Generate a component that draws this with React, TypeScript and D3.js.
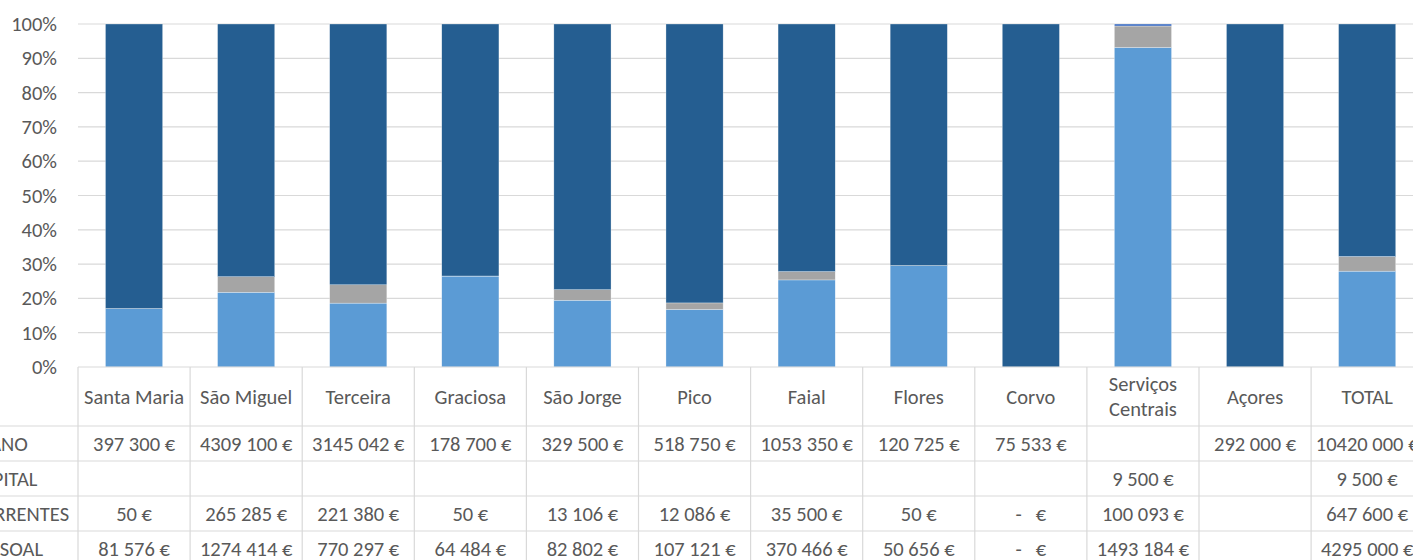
import React from "react";
import * as d3 from "d3";

const categories = [
  "Santa Maria", "São Miguel", "Terceira", "Graciosa", "São Jorge", "Pico",
  "Faial", "Flores", "Corvo", "Serviços Centrais", "Açores", "TOTAL",
];
const plano = [397300, 4309100, 3145042, 178700, 329500, 518750, 1053350, 120725, 75533, null, 292000, 10420000];
const capital = [null, null, null, null, null, null, null, null, null, 9500, null, 9500];
const correntes = [50, 265285, 221380, 50, 13106, 12086, 35500, 50, 0, 100093, null, 647600];
const pessoal = [81576, 1274414, 770297, 64484, 82802, 107121, 370466, 50656, 0, 1493184, null, 4295000];
const yTicks = [0, 0.1, 0.2, 0.3, 0.4, 0.5, 0.6, 0.7, 0.8, 0.9, 1];

const seriesBottomUp = [
  { key: "PESSOAL", values: pessoal, color: "#5B9BD5" },
  { key: "CORRENTES", values: correntes, color: "#A5A5A5" },
  { key: "CAPITAL", values: capital, color: "#4472C4" },
  { key: "PLANO", values: plano, color: "#255E91" },
];
const tableRows = [...seriesBottomUp].reverse();

const W = 1413, H = 560;
const FONT = "Carlito, Calibri, Lato, sans-serif";
const FS = 20.5;
const TXT = "#595959";
const GRID = "#D9D9D9";

function fmt(v: number | null): string {
  if (v === null) return "";
  if (v === 0) return "-   €";
  if (v < 1000) return `${v} €`;
  return `${Math.floor(v / 1000)} ${String(v % 1000).padStart(3, "0")} €`;
}

export default function App() {
  const left = 78;
  const colW = 112.1;
  const x = d3.scaleBand<string>().domain(categories).range([left, left + colW * categories.length]).paddingInner(0).paddingOuter(0);
  const y = d3.scaleLinear().domain([0, 1]).range([367, 24]);
  const barW = x.bandwidth() * 0.51;

  const rowsData = categories.map((c, i) => {
    const o: any = { cat: c };
    seriesBottomUp.forEach((s) => (o[s.key] = s.values[i] ?? 0));
    return o;
  });
  const stack = d3.stack<any>().keys(seriesBottomUp.map((s) => s.key)).offset(d3.stackOffsetExpand);
  const stacked = stack(rowsData);

  const headerTop = y(0);
  const headerBottom = 426;
  const rowH = 35;
  const rowTops = tableRows.map((_, i) => headerBottom + i * rowH);
  const tableBottom = headerBottom + tableRows.length * rowH;

  return (
    <svg width={W} height={H} style={{ position: "absolute", left: 0, top: 0, background: "#fff" }} fontFamily={FONT}>
      {yTicks.filter((t) => t > 0).map((t) => (
        <line key={t} x1={left} x2={W} y1={y(t)} y2={y(t)} stroke={GRID} strokeWidth={1.2} />
      ))}
      {yTicks.map((t) => (
        <text key={t} x={57} y={y(t)} textAnchor="end" dominantBaseline="central" fontSize={FS} fill={TXT}>
          {d3.format(".0%")(t)}
        </text>
      ))}
      {stacked.map((layer, li) => (
        <g key={layer.key} fill={seriesBottomUp[li].color}>
          {layer.map((d, i) => {
            const h = y(d[0]) - y(d[1]);
            if (!(h > 0)) return null;
            return (
              <rect key={i} x={(x(categories[i]) as number) + (x.bandwidth() - barW) / 2} y={y(d[1])} width={barW} height={h} stroke="#ffffff" strokeWidth={0.5} strokeOpacity={0.6} />
            );
          })}
        </g>
      ))}
      <line x1={left} x2={W} y1={headerTop} y2={headerTop} stroke={GRID} strokeWidth={1.2} />
      {[headerBottom, ...rowTops.slice(1), tableBottom].map((yy, i) => (
        <line key={"h" + i} x1={0} x2={W} y1={yy} y2={yy} stroke={GRID} strokeWidth={1.2} />
      ))}
      {categories.map((c) => (
        <line key={"v" + c} x1={x(c)} x2={x(c)} y1={headerTop} y2={tableBottom} stroke={GRID} strokeWidth={1.2} />
      ))}
      <line x1={left + colW * categories.length} x2={left + colW * categories.length} y1={headerTop} y2={tableBottom} stroke={GRID} strokeWidth={1.2} />
      {categories.map((c) => {
        const cx = (x(c) as number) + x.bandwidth() / 2;
        const cy = (headerTop + headerBottom) / 2;
        const lines = c === "Serviços Centrais" ? ["Serviços", "Centrais"] : [c];
        return (
          <text key={"t" + c} x={cx} textAnchor="middle" fontSize={FS} fill={TXT}>
            {lines.map((ln, k) => (
              <tspan key={k} x={cx} y={cy + (k - (lines.length - 1) / 2) * 25} dominantBaseline="central">{ln}</tspan>
            ))}
          </text>
        );
      })}
      {tableRows.map((s, ri) => {
        const cy = rowTops[ri] + rowH / 2;
        return (
          <g key={s.key}>
            <text x={-30} y={cy} dominantBaseline="central" fontSize={FS} fill={TXT}>{s.key}</text>
            {categories.map((c, i) => (
              <text key={c} x={(x(c) as number) + x.bandwidth() / 2} y={cy} textAnchor="middle" dominantBaseline="central" fontSize={FS} fill={TXT} style={{ whiteSpace: "pre" }}>
                {fmt(s.values[i])}
              </text>
            ))}
          </g>
        );
      })}
    </svg>
  );
}
